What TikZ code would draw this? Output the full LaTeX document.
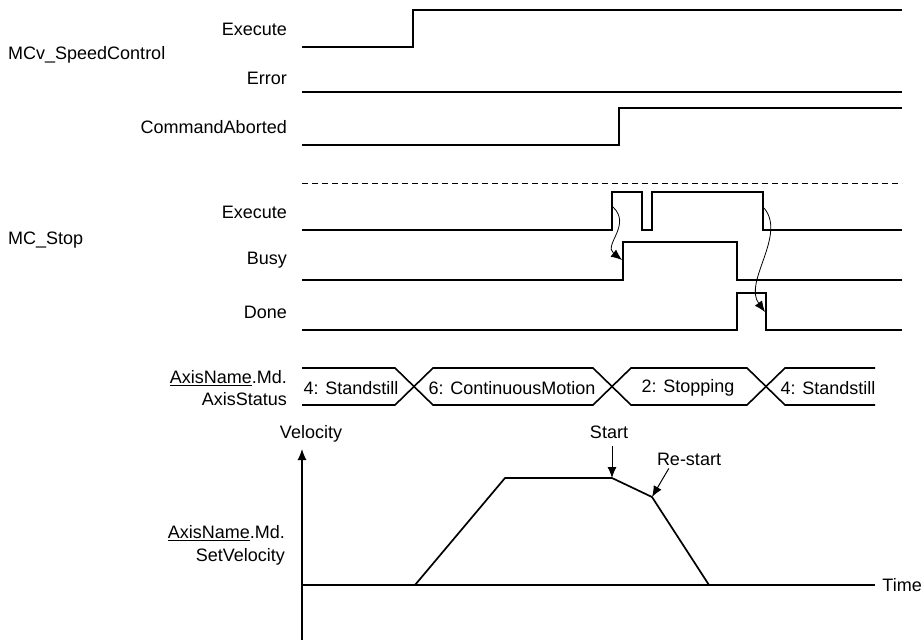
\documentclass[tikz,border=0pt]{standalone}
\usepackage{fontspec}
\setmainfont{Liberation Sans}
\usetikzlibrary{arrows.meta}

\begin{document}
\begin{tikzpicture}[x=1pt,y=-1pt,
  txt/.style={font=\fontsize{18}{21}\selectfont, inner sep=0pt},
  lbl/.style={txt, anchor=east},
  sig/.style={line width=1.7pt, line join=miter},
  bus/.style={line width=1.6pt, line join=miter},
  axisline/.style={line width=1.2pt},
  head/.style={-{Latex[length=11pt,width=9pt]}},
  tip/.style={line width=1pt, head},
  wave/.style={line width=0.8pt, head}
]
\useasboundingbox (0,0) rectangle (922,640);

% ---- signal names ----
\node[txt, anchor=west] (grpA) at (8,55) {MCv\_SpeedControl};
\node[lbl] (exA) at (287,29) {Execute};
\node[lbl] (errA) at (287,78) {Error};
\node[lbl] (abA) at (287,127) {CommandAborted};
\node[txt, anchor=west] (grpB) at (8,240) {MC\_Stop};
\node[lbl] (exB) at (287,212) {Execute};
\node[lbl] (busyB) at (287,260) {Busy};
\node[lbl] (doneB) at (287,312) {Done};
\node[lbl] (stA) at (287,378) {\underline{AxisName}.Md.};
\node[lbl] (stB) at (287,399) {AxisStatus};
\node[lbl] (svA) at (285,533) {\underline{AxisName}.Md.};
\node[lbl] (svB) at (285,557) {SetVelocity};

% ---- MCv_SpeedControl ----
\draw[sig] (302,47) -- (413,47) -- (413,10) -- (902,10);
\draw[sig] (302,92) -- (902,92);
\draw[sig] (302,145) -- (619,145) -- (619,108) -- (902,108);

\draw[line width=1pt, dash pattern=on 6pt off 4pt] (302,183) -- (902,183);

% ---- MC_Stop ----
\draw[sig] (302,230) -- (612,230) -- (612,192) -- (642,192) -- (642,230)
  -- (652,230) -- (652,192) -- (763,192) -- (763,230) -- (902,230);
\draw[sig] (302,280) -- (623,280) -- (623,242) -- (737,242) -- (737,280) -- (902,280);
\draw[sig] (302,330) -- (737,330) -- (737,293) -- (766,293) -- (766,330) -- (902,330);

\coordinate (exRise) at (613,207);
\coordinate (busyRise) at (622,260);
\coordinate (exFall) at (764,208);
\coordinate (doneFall) at (765,312);
\draw[wave] (exRise) .. controls (632,225) and (603,245) .. (busyRise);
\draw[wave] (exFall) .. controls (787,235) and (743,282) .. (doneFall);

% ---- axis status bus ----
\draw[bus] (302,368) -- (395,368) -- (433,405) -- (593,405) -- (631,368)
  -- (747,368) -- (785,405) -- (875,405);
\draw[bus] (302,405) -- (395,405) -- (433,368) -- (593,368) -- (631,405)
  -- (747,405) -- (785,368) -- (875,368);
\node[txt] (s1) at (351,388) {4: Standstill};
\node[txt] (s2) at (512,388) {6: ContinuousMotion};
\node[txt] (s3) at (688,388) {2: Stopping};
\node[txt] (s4) at (828,388) {4: Standstill};

% ---- velocity graph ----
\draw[axisline, head] (302,640) -- (302,449);
\draw[axisline] (302,585) -- (875,585);
\node[txt, anchor=east] (time) at (922,585) {Time};
\node[txt] (vel) at (311,434) {Velocity};

\coordinate (pStart) at (612,478);
\coordinate (pRe) at (652,497);
\draw[sig] (415,585) -- (505,478) -- (pStart) -- (pRe) -- (709,585);

\node[txt] (start) at (609,432) {Start};
\node[txt] (restart) at (689,459) {Re-start};
\draw[tip] (612,446) -- (pStart);
\draw[tip] ([xshift=12pt,yshift=-3pt]restart.south west) -- (pRe);
\end{tikzpicture}
\end{document}
